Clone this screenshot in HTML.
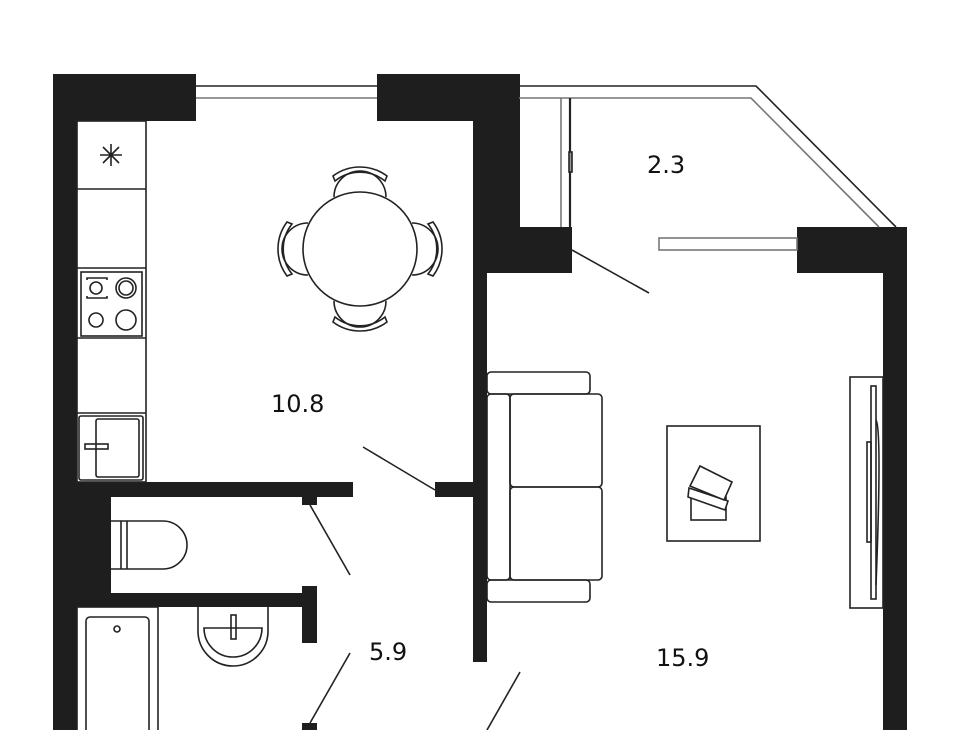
<!DOCTYPE html>
<html><head><style>body{margin:0;background:#fff}svg{display:block}</style></head><body>
<svg width="960" height="730" viewBox="0 0 960 730" xmlns="http://www.w3.org/2000/svg">
<g fill="#1e1e1e">
<rect x="53" y="74" width="24" height="656"/>
<rect x="53" y="74" width="143" height="47"/>
<rect x="377" y="74" width="143" height="47"/>
<rect x="473" y="74" width="47" height="199"/>
<rect x="473" y="227" width="99" height="46"/>
<rect x="473" y="273" width="14" height="389"/>
<rect x="53" y="482" width="300" height="15"/>
<rect x="435" y="482" width="40" height="15"/>
<rect x="302" y="495" width="15" height="10"/>
<rect x="53" y="495" width="58" height="112"/>
<rect x="53" y="593" width="264" height="14"/>
<rect x="302" y="586" width="15" height="57"/>
<rect x="302" y="723" width="15" height="7"/>
<rect x="797" y="227" width="110" height="46"/>
<rect x="883" y="227" width="24" height="503"/>
</g>
<g fill="none" stroke="#222" stroke-width="1.6">
<line x1="196" y1="86" x2="377" y2="86"/>
<line x1="196" y1="98" x2="377" y2="98" stroke="#777"/>
<polyline points="519,86 756,86 896,227"/>
<polyline points="519,98 751,98 879,227" stroke="#777"/>
<line x1="561" y1="98" x2="561" y2="227" stroke="#777"/>
<line x1="570" y1="98" x2="570" y2="227" stroke-width="2.2"/>
<rect x="569" y="152" width="3" height="20" fill="#999"/>
<rect x="659" y="238" width="138" height="12" stroke="#777"/>
<line x1="572" y1="250" x2="649" y2="293"/>
<line x1="363" y1="447" x2="435" y2="490"/>
<line x1="310" y1="505" x2="350" y2="575"/>
<line x1="350" y1="653" x2="310" y2="723"/>
<line x1="520" y1="672" x2="487" y2="730"/>
<rect x="77" y="121" width="69" height="361"/>
<line x1="77" y1="189" x2="146" y2="189"/>
<line x1="77" y1="268" x2="146" y2="268"/>
<line x1="77" y1="338" x2="146" y2="338"/>
<line x1="77" y1="413" x2="146" y2="413"/>
<rect x="81" y="272" width="61" height="64"/>
<circle cx="96" cy="288" r="6"/>
<path d="M87 280v-2h20v2M87 296v2h20v-2"/>
<circle cx="126" cy="288" r="10"/><circle cx="126" cy="288" r="7"/>
<circle cx="96" cy="320" r="7"/>
<circle cx="126" cy="320" r="10"/>
<rect x="79" y="416" width="64" height="64" rx="2"/>
<rect x="96" y="419" width="43" height="58" rx="2"/>
<rect x="85" y="444" width="23" height="5"/>
<path d="M100 155l22 0M111 144v22M103 147l16 16M119 147l-16 16"/>
<circle cx="360" cy="249" r="57"/>
<path d="M334 197a26 26 0 0 1 52 0"/><path d="M334 301a26 26 0 0 0 52 0"/>
<path d="M308 223a26 26 0 0 0 0 52"/><path d="M412 223a26 26 0 0 1 0 52"/>
<path d="M333 176a45 45 0 0 1 54 0l-2 5a40 40 0 0 0 -50 0z"/>
<path d="M333 322a45 45 0 0 0 54 0l-2 -5a40 40 0 0 1 -50 0z"/>
<path d="M287 222a45 45 0 0 0 0 54l5 -2a40 40 0 0 1 0 -50z"/>
<path d="M433 222a45 45 0 0 1 0 54l-5 -2a40 40 0 0 0 0 -50z"/>
<path d="M111 521h52a24 24 0 0 1 0 48h-52"/>
<line x1="121" y1="521" x2="121" y2="569"/>
<line x1="127" y1="521" x2="127" y2="569"/>
<path d="M198 607v24a35 35 0 0 0 70 0v-24"/>
<path d="M204 628h58a29 29 0 0 1 -58 0z"/>
<rect x="231" y="615" width="5" height="24"/>
<rect x="77" y="607" width="81" height="130"/>
<rect x="86" y="617" width="63" height="120" rx="4"/>
<circle cx="117" cy="629" r="3"/>
<rect x="487" y="372" width="103" height="22" rx="4"/>
<rect x="487" y="580" width="103" height="22" rx="4"/>
<rect x="487" y="394" width="23" height="186" rx="4"/>
<rect x="510" y="394" width="92" height="93" rx="4"/>
<rect x="510" y="487" width="92" height="93" rx="4"/>
<rect x="667" y="426" width="93" height="115"/>
<rect x="691" y="497" width="35" height="23"/>
<polygon points="689,488 728,501 725,510 688,497" fill="#fff"/>
<polygon points="690,486 724,500 732,482 700,466" fill="#fff"/>
<rect x="850" y="377" width="33" height="231"/>
<rect x="871" y="386" width="5" height="213"/>
<rect x="867" y="442" width="4" height="100"/>
<path d="M876 420q6 10 0 165"/>
</g>
<g font-family="DejaVu Sans, Liberation Sans, sans-serif" font-size="24" fill="#111">
<text x="271" y="412">10.8</text>
<text x="647" y="173">2.3</text>
<text x="369" y="660">5.9</text>
<text x="656" y="666">15.9</text>
</g>
</svg>
</body></html>
